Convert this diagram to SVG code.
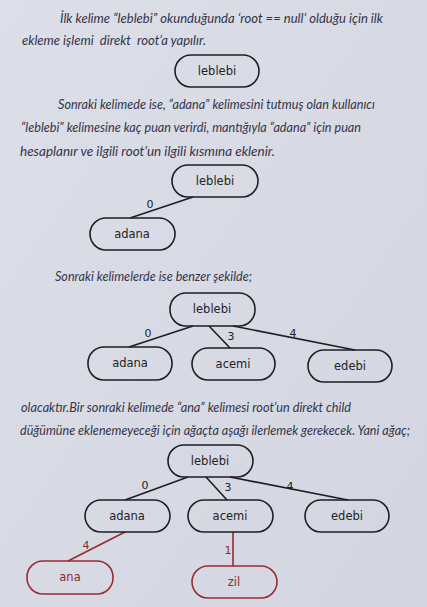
<svg xmlns="http://www.w3.org/2000/svg" width="427" height="607" viewBox="0 0 427 607">
<defs>
<linearGradient id="bg" x1="0" y1="0" x2="1" y2="1">
<stop offset="0" stop-color="#dcdfe8"/>
<stop offset="1" stop-color="#d3d6e0"/>
</linearGradient>
</defs>
<style>
.p{font-family:Lato,"Liberation Sans",sans-serif;font-style:italic;font-size:13px;fill:#34344a;white-space:pre}
.n rect{fill:none;stroke:#1e1e24;stroke-width:1.6}
.n text{font-family:"DejaVu Sans",sans-serif;font-size:11.5px;fill:#222;text-anchor:middle}
.r rect{stroke:#9b2a32}
.r text{fill:#8a2a30}
.e line{stroke:#1e1e24;stroke-width:1.6}
.e line.red{stroke:#9b2a32}
.l{font-family:"DejaVu Sans",sans-serif;font-size:11px;fill:#222;text-anchor:middle}
.lr{fill:#8a2a30}
</style>
<rect width="427" height="607" fill="url(#bg)"/>
<g id="text">
<text class="p" x="60" y="23" textLength="323" lengthAdjust="spacingAndGlyphs">İlk kelime “leblebi” okunduğunda ‘root == null’ olduğu için ilk</text>
<text class="p" x="22" y="45" textLength="184" lengthAdjust="spacingAndGlyphs" xml:space="preserve">ekleme işlemi  direkt  root’a yapılır.</text>
<text class="p" x="58" y="109" textLength="317" lengthAdjust="spacingAndGlyphs">Sonraki kelimede ise, “adana” kelimesini tutmuş olan kullanıcı</text>
<text class="p" x="21" y="132" textLength="340" lengthAdjust="spacingAndGlyphs">“leblebi” kelimesine kaç puan verirdi, mantığıyla “adana” için puan</text>
<text class="p" x="20" y="156" textLength="255" lengthAdjust="spacingAndGlyphs">hesaplanır ve ilgili root’un ilgili kısmına eklenir.</text>
<text class="p" x="55" y="281" textLength="197" lengthAdjust="spacingAndGlyphs">Sonraki kelimelerde ise benzer şekilde;</text>
<text class="p" x="21" y="412" textLength="330" lengthAdjust="spacingAndGlyphs">olacaktır.Bir sonraki kelimede “ana” kelimesi root’un direkt child</text>
<text class="p" x="20" y="435" textLength="390" lengthAdjust="spacingAndGlyphs">düğümüne eklenemeyeceği için ağaçta aşağı ilerlemek gerekecek. Yani ağaç;</text>
</g>
<g id="connectors" class="e">
<line x1="193" y1="197" x2="130" y2="218"/>
<line x1="193" y1="326" x2="129" y2="347"/>
<line x1="209" y1="326" x2="230" y2="348"/>
<line x1="233" y1="326" x2="355" y2="350"/>
<line x1="188" y1="477" x2="125" y2="500"/>
<line x1="206" y1="477" x2="227" y2="500"/>
<line x1="230" y1="477" x2="348" y2="500"/>
<line class="red" x1="125" y1="532" x2="68" y2="561"/>
<line class="red" x1="233" y1="532" x2="233" y2="566"/>
<text class="l" x="150" y="208">0</text>
<text class="l" x="148" y="337">0</text>
<text class="l" x="231" y="340">3</text>
<text class="l" x="293" y="337">4</text>
<text class="l" x="145" y="489">0</text>
<text class="l" x="228" y="491">3</text>
<text class="l" x="290" y="490">4</text>
<text class="l lr" x="86" y="549">4</text>
<text class="l lr" x="228" y="554">1</text>
</g>
<g id="n1" class="n"><rect x="175" y="55" width="84" height="32" rx="16"/><text x="217" y="75">leblebi</text></g>
<g id="n2" class="n"><rect x="172" y="165" width="86" height="32" rx="16"/><text x="215" y="185">leblebi</text></g>
<g id="n3" class="n"><rect x="90" y="218" width="85" height="32" rx="16"/><text x="132" y="238">adana</text></g>
<g id="n4" class="n"><rect x="170" y="293" width="85" height="33" rx="16"/><text x="212" y="313">leblebi</text></g>
<g id="n5" class="n"><rect x="88" y="347" width="84" height="33" rx="16"/><text x="130" y="367">adana</text></g>
<g id="n6" class="n"><rect x="192" y="348" width="83" height="32" rx="16"/><text x="233" y="368">acemi</text></g>
<g id="n7" class="n"><rect x="308" y="350" width="84" height="32" rx="16"/><text x="350" y="370">edebi</text></g>
<g id="n8" class="n"><rect x="168" y="445" width="85" height="32" rx="16"/><text x="210" y="465">leblebi</text></g>
<g id="n9" class="n"><rect x="85" y="500" width="85" height="32" rx="16"/><text x="127" y="520">adana</text></g>
<g id="n10" class="n"><rect x="188" y="500" width="85" height="32" rx="16"/><text x="230" y="520">acemi</text></g>
<g id="n11" class="n"><rect x="305" y="500" width="84" height="32" rx="16"/><text x="347" y="520">edebi</text></g>
<g id="n12" class="n r"><rect x="27" y="561" width="86" height="33" rx="16"/><text x="70" y="581">ana</text></g>
<g id="n13" class="n r"><rect x="192" y="566" width="85" height="32" rx="16"/><text x="234" y="586">zil</text></g>
</svg>
